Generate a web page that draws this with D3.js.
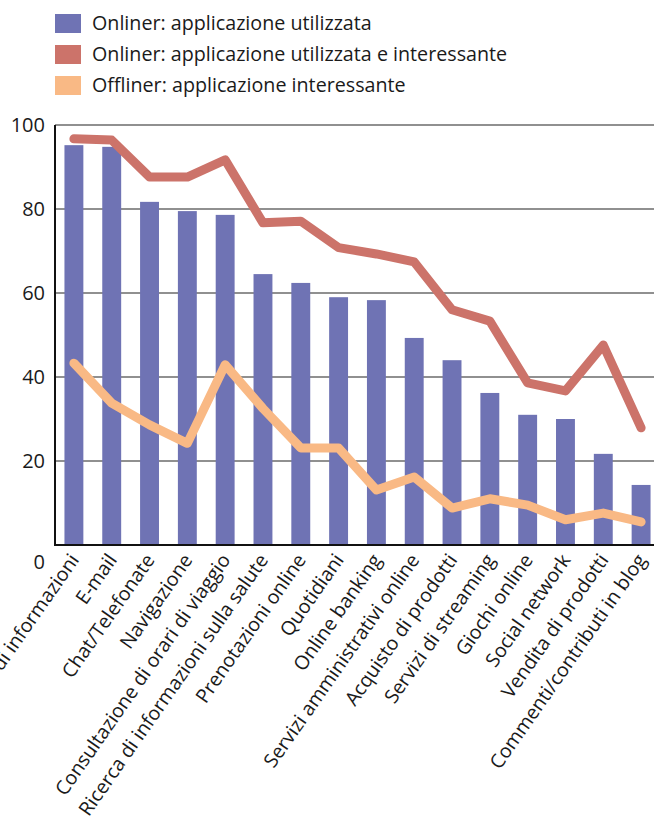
<!DOCTYPE html>
<html><head><meta charset="utf-8">
<script src="https://cdn.jsdelivr.net/npm/d3@7"></script>
<style>
html,body{margin:0;padding:0;background:#fff;overflow:hidden;}
svg{display:block;font-family:"Open Sans",sans-serif;}
</style></head>
<body>
<svg id="chart" width="654" height="816"></svg>
<script>
const categories = ["Ricerca di informazioni","E-mail","Chat/Telefonate","Navigazione","Consultazione di orari di viaggio","Ricerca di informazioni sulla salute","Prenotazioni online","Quotidiani","Online banking","Servizi amministrativi online","Acquisto di prodotti","Servizi di streaming","Giochi online","Social network","Vendita di prodotti","Commenti/contributi in blog"];
const onlinerUsed = [95.2,94.8,81.7,79.5,78.6,64.5,62.4,59.0,58.3,49.3,44.0,36.2,31.0,30.0,21.7,14.3];
const onlinerUsedInteresting = [96.7,96.4,87.6,87.6,91.7,76.7,77.1,70.8,69.3,67.4,56.0,53.3,38.6,36.7,47.6,27.9];
const offlinerInteresting = [43.3,33.8,28.6,24.2,42.9,32.5,23.1,23.1,13.1,16.2,8.8,11.0,9.5,6.0,7.6,5.5];
const yTicks = [0,20,40,60,80,100];
const seriesNames = ["Onliner: applicazione utilizzata","Onliner: applicazione utilizzata e interessante","Offliner: applicazione interessante"];
const colors = ["#6f73b4","#cc736a","#f9b985"];

(function(){
const svg = d3.select("#chart");
const mLeft = 55, mTop = 125, mBottom = 545, mRight = 660;
const x = d3.scaleBand().domain(categories).range([mLeft, mRight]).paddingInner(0.5).paddingOuter(0.25);
const y = d3.scaleLinear().domain([0,100]).range([mBottom, mTop]);

svg.append("g").selectAll("line").data(yTicks.filter(d=>d>0)).join("line")
  .attr("x1", mLeft).attr("x2", 654).attr("y1", d=>y(d)).attr("y2", d=>y(d))
  .attr("stroke", "#6b6b6b").attr("stroke-width", 1.3);

svg.append("g").selectAll("rect").data(onlinerUsed).join("rect")
  .attr("x", (d,i)=>x(categories[i])).attr("width", x.bandwidth())
  .attr("y", d=>y(d)).attr("height", d=>mBottom - y(d))
  .attr("fill", colors[0]);

const line = d3.line().x((d,i)=>x(categories[i]) + x.bandwidth()/2).y(d=>y(d));
[[offlinerInteresting, colors[2]], [onlinerUsedInteresting, colors[1]]].forEach(([data,c])=>{
  svg.append("path").datum(data).attr("d", line).attr("fill","none")
    .attr("stroke", c).attr("stroke-width", 9).attr("stroke-linecap","round").attr("stroke-linejoin","round");
});

svg.append("line").attr("x1", mLeft).attr("x2", mLeft).attr("y1", mTop).attr("y2", mBottom+1).attr("stroke","#111").attr("stroke-width",2);
svg.append("line").attr("x1", mLeft-1).attr("x2", 654).attr("y1", mBottom).attr("y2", mBottom).attr("stroke","#111").attr("stroke-width",2);

svg.append("g").selectAll("text").data(yTicks).join("text")
  .attr("x", 45).attr("y", d=> d===0 ? 562 : y(d)).attr("dy","0.35em")
  .attr("text-anchor","end").attr("font-size", 20).attr("fill","#1a1a1a")
  .text(d=>d);

svg.append("g").selectAll("text").data(categories).join("text")
  .attr("transform", d=>`translate(${x(d)+x.bandwidth()/2+6},${mBottom+15}) rotate(-55)`)
  .attr("text-anchor","end").attr("font-size", 19.5).attr("fill","#1a1a1a")
  .text(d=>d);

const lg = svg.append("g");
seriesNames.forEach((n,i)=>{
  const cy = 23.5 + i*31;
  lg.append("rect").attr("x",55).attr("y",cy-9.5).attr("width",26).attr("height",19).attr("fill",colors[i]);
  lg.append("text").attr("x",92).attr("y",cy).attr("dy","0.35em").attr("font-size",19.7).attr("fill","#1a1a1a").text(n);
});
})();
</script>
</body></html>
